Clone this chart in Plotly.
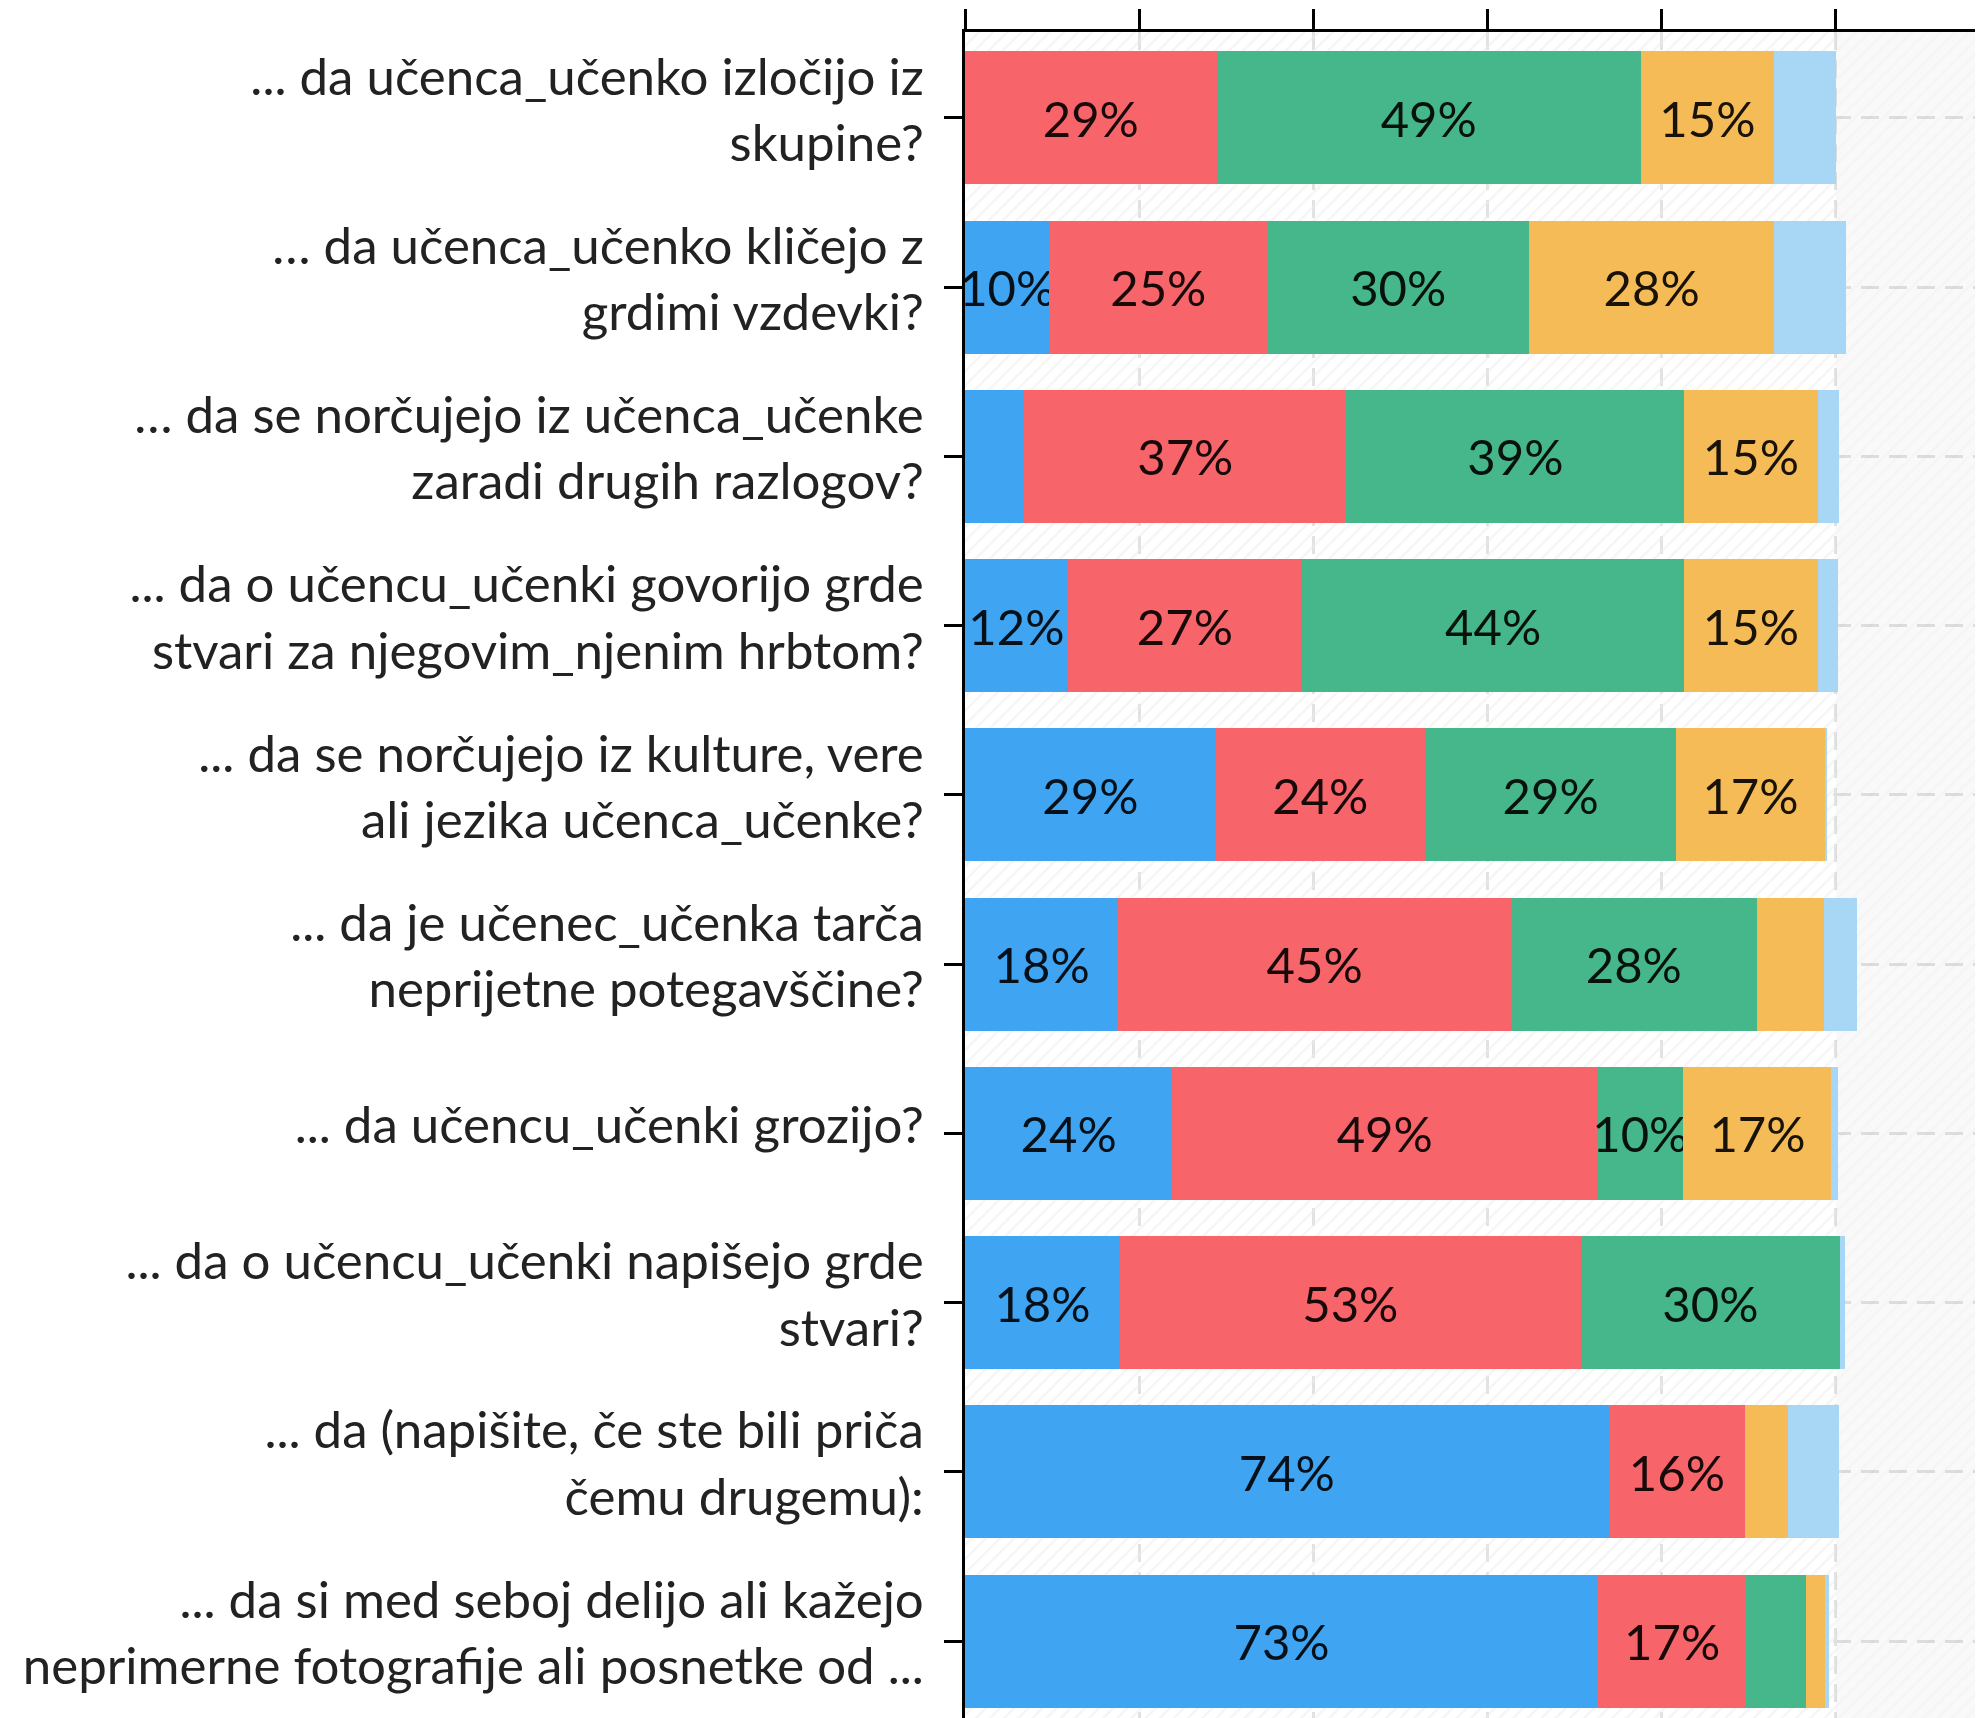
import plotly.graph_objects as go

categories = [
    "... da učenca_učenko izločijo iz<br>skupine?",
    "… da učenca_učenko kličejo z<br>grdimi vzdevki?",
    "… da se norčujejo iz učenca_učenke<br>zaradi drugih razlogov?",
    "... da o učencu_učenki govorijo grde<br>stvari za njegovim_njenim hrbtom?",
    "... da se norčujejo iz kulture, vere<br>ali jezika učenca_učenke?",
    "... da je učenec_učenka tarča<br>neprijetne potegavščine?",
    "... da učencu_učenki grozijo?",
    "... da o učencu_učenki napišejo grde<br>stvari?",
    "... da (napišite, če ste bili priča<br>čemu drugemu):",
    "... da si med seboj delijo ali kažejo<br>neprimerne fotografije ali posnetke od ...",
]

series_names = ["Odgovor 1", "Odgovor 2", "Odgovor 3", "Odgovor 4", "Odgovor 5"]
s1 = [0.0, 9.7, 6.8, 11.8, 28.8, 17.6, 23.8, 17.8, 73.9, 72.7]
s2 = [28.9, 25.0, 37.0, 26.9, 24.0, 45.1, 48.8, 52.9, 15.7, 17.0]
s3 = [48.7, 30.1, 38.8, 43.9, 28.9, 28.2, 9.9, 29.8, 0.0, 6.9]
s4 = [15.3, 28.1, 15.3, 15.3, 17.0, 7.7, 17.0, 0.0, 4.9, 2.1]
s5 = [7.1, 8.3, 2.5, 2.3, 0.3, 3.8, 0.7, 0.5, 5.9, 0.5]
series_values = [s1, s2, s3, s4, s5]
colors = ["#3fa4f2", "#f7656b", "#46b78a", "#f4bb56", "#a8d7f5"]

x_max = 116.9
y_range = [9.455, -0.508]
bar_width = 0.786
label_min = 9.5

FONT = "Lato, 'Source Sans Pro', sans-serif"
FS_TICK = 51
FS_BAR = 49

positions = list(range(len(categories)))

fig = go.Figure()

# hatched plot background (two zones)
bg_center = (y_range[0] + y_range[1]) / 2
bg_span = y_range[0] - y_range[1]
fig.add_trace(go.Bar(
    y=[bg_center], x=[100], orientation="h", width=[bg_span],
    marker=dict(color="rgba(0,0,0,0)", line=dict(width=0),
                pattern=dict(shape="/", fgcolor="#ececec", bgcolor="rgba(255,255,255,0)",
                             size=10, solidity=0.25)),
    hoverinfo="skip", showlegend=False,
))
fig.add_trace(go.Bar(
    y=[bg_center], x=[x_max - 100], orientation="h", width=[bg_span],
    marker=dict(color="rgba(0,0,0,0)", line=dict(width=0),
                pattern=dict(shape="/", fgcolor="rgba(0,0,0,0.035)", bgcolor="rgba(0,0,0,0.022)",
                             size=10, solidity=0.25)),
    hoverinfo="skip", showlegend=False,
))

for name, vals, col in zip(series_names, series_values, colors):
    labels = [f"{round(v)}%" if v >= label_min else "" for v in vals]
    fig.add_trace(go.Bar(
        y=positions, x=vals, orientation="h", name=name,
        width=[bar_width] * len(vals),
        marker=dict(color=col, line=dict(width=0)),
        text=labels, textposition="inside", insidetextanchor="middle",
        textangle=0, constraintext="none", cliponaxis=False,
        textfont=dict(family=FONT, size=FS_BAR, color="rgba(0,0,0,0.9)"),
        showlegend=False,
    ))

# the page body adds an 8px offset; size the figure to fill the window exactly
fig.update_layout(
    width=1975, height=1710,
    barmode="stack",
    margin=dict(l=957, r=0, t=24, b=0, pad=0),
    paper_bgcolor="white", plot_bgcolor="white",
    uniformtext=dict(minsize=FS_BAR, mode="show"),
    font=dict(family=FONT, size=FS_TICK, color="#222"),
    showlegend=False,
)

fig.update_xaxes(
    side="top", range=[0, x_max], dtick=20, tick0=0,
    showline=True, linecolor="black", linewidth=3,
    ticks="outside", ticklen=20, tickwidth=3, tickcolor="black",
    showticklabels=False,
    showgrid=True, gridcolor="#e2e2e2", gridwidth=3, griddash="18px,10px",
    zeroline=False, automargin=False,
)
fig.update_yaxes(
    range=y_range, tickmode="array", tickvals=positions, ticktext=categories,
    showline=True, linecolor="black", linewidth=3,
    ticks="outside", ticklen=18, tickwidth=3, tickcolor="black",
    ticklabelstandoff=10, ticklabelshift=8,
    tickfont=dict(family=FONT, size=FS_TICK, color="#222"),
    showgrid=True, gridcolor="#e2e2e2", gridwidth=3, griddash="18px,10px",
    zeroline=False, automargin=False,
)

fig.write_html("out.html")
